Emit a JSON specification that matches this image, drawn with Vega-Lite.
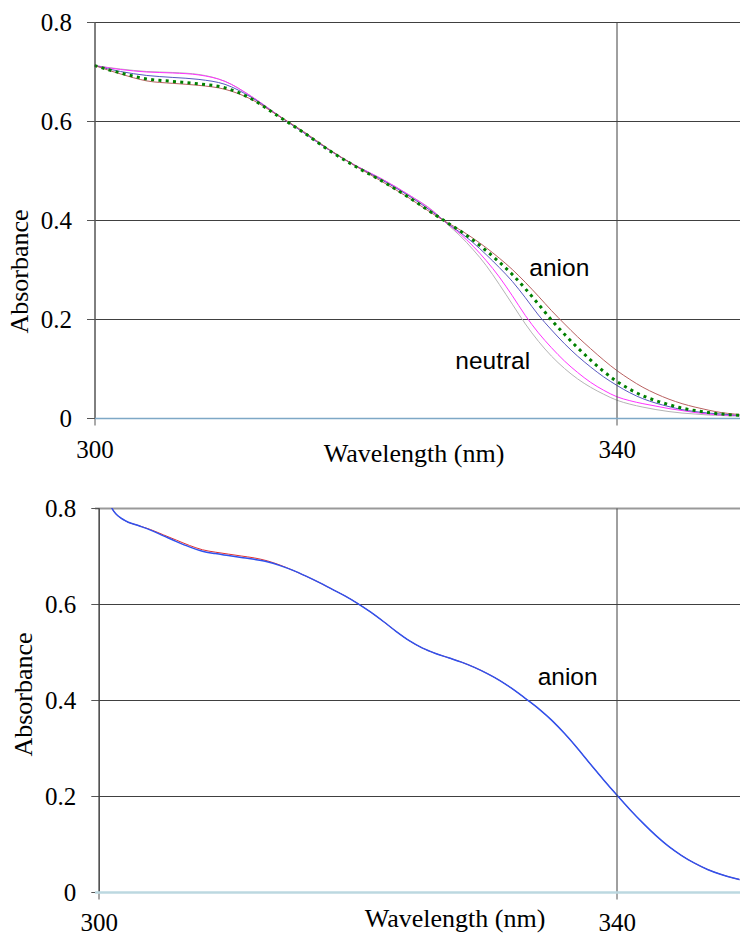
{
  "$schema": "https://vega.github.io/schema/vega-lite/v6.json",
  "padding": {"left": 6.5, "top": 10, "right": 0, "bottom": 0},
  "spacing": 29,
  "background": "white",
  "config": {
    "view": {"stroke": null},
    "axis": {"labelFont": "Liberation Serif", "titleFont": "Liberation Serif", "labelColor": "#000", "titleColor": "#000", "titleFontWeight": "normal", "labelFontSize": 25, "titleFontSize": 26}
  },
  "datasets": {
    "top": [
      {"s":"gray","wl":300,"a":0.712},{"s":"magenta","wl":300,"a":0.712},{"s":"blue","wl":300,"a":0.712},{"s":"green","wl":300,"a":0.712},{"s":"brown","wl":300,"a":0.712},
      {"s":"gray","wl":302,"a":0.705},{"s":"magenta","wl":302,"a":0.704},{"s":"blue","wl":302,"a":0.700},{"s":"green","wl":302,"a":0.697},{"s":"brown","wl":302,"a":0.695},
      {"s":"gray","wl":304,"a":0.700},{"s":"magenta","wl":304,"a":0.699},{"s":"blue","wl":304,"a":0.692},{"s":"green","wl":304,"a":0.685},{"s":"brown","wl":304,"a":0.681},
      {"s":"gray","wl":306,"a":0.698},{"s":"magenta","wl":306,"a":0.697},{"s":"blue","wl":306,"a":0.688},{"s":"green","wl":306,"a":0.680},{"s":"brown","wl":306,"a":0.676},
      {"s":"gray","wl":308,"a":0.694},{"s":"magenta","wl":308,"a":0.693},{"s":"blue","wl":308,"a":0.684},{"s":"green","wl":308,"a":0.675},{"s":"brown","wl":308,"a":0.672},
      {"s":"gray","wl":310,"a":0.680},{"s":"magenta","wl":310,"a":0.680},{"s":"blue","wl":310,"a":0.674},{"s":"green","wl":310,"a":0.667},{"s":"brown","wl":310,"a":0.664},
      {"s":"gray","wl":312,"a":0.650},{"s":"magenta","wl":312,"a":0.650},{"s":"blue","wl":312,"a":0.648},{"s":"green","wl":312,"a":0.645},{"s":"brown","wl":312,"a":0.644},
      {"s":"gray","wl":314,"a":0.613},{"s":"magenta","wl":314,"a":0.613},{"s":"blue","wl":314,"a":0.612},{"s":"green","wl":314,"a":0.611},{"s":"brown","wl":314,"a":0.612},
      {"s":"gray","wl":316,"a":0.577},{"s":"magenta","wl":316,"a":0.577},{"s":"blue","wl":316,"a":0.577},{"s":"green","wl":316,"a":0.577},{"s":"brown","wl":316,"a":0.579},
      {"s":"gray","wl":318,"a":0.541},{"s":"magenta","wl":318,"a":0.541},{"s":"blue","wl":318,"a":0.541},{"s":"green","wl":318,"a":0.540},{"s":"brown","wl":318,"a":0.542},
      {"s":"gray","wl":320,"a":0.510},{"s":"magenta","wl":320,"a":0.510},{"s":"blue","wl":320,"a":0.509},{"s":"green","wl":320,"a":0.508},{"s":"brown","wl":320,"a":0.509},
      {"s":"gray","wl":322,"a":0.483},{"s":"magenta","wl":322,"a":0.483},{"s":"blue","wl":322,"a":0.481},{"s":"green","wl":322,"a":0.479},{"s":"brown","wl":322,"a":0.478},
      {"s":"gray","wl":324,"a":0.452},{"s":"magenta","wl":324,"a":0.452},{"s":"blue","wl":324,"a":0.450},{"s":"green","wl":324,"a":0.447},{"s":"brown","wl":324,"a":0.446},
      {"s":"gray","wl":326,"a":0.417},{"s":"magenta","wl":326,"a":0.416},{"s":"blue","wl":326,"a":0.414},{"s":"green","wl":326,"a":0.412},{"s":"brown","wl":326,"a":0.411},
      {"s":"gray","wl":327,"a":0.392},{"s":"magenta","wl":327,"a":0.393},{"s":"blue","wl":327,"a":0.394},{"s":"green","wl":327,"a":0.395},{"s":"brown","wl":327,"a":0.395},
      {"s":"gray","wl":328,"a":0.368},{"s":"magenta","wl":328,"a":0.372},{"s":"blue","wl":328,"a":0.375},{"s":"green","wl":328,"a":0.378},{"s":"brown","wl":328,"a":0.380},
      {"s":"gray","wl":329,"a":0.340},{"s":"magenta","wl":329,"a":0.347},{"s":"blue","wl":329,"a":0.354},{"s":"green","wl":329,"a":0.359},{"s":"brown","wl":329,"a":0.363},
      {"s":"gray","wl":330,"a":0.308},{"s":"magenta","wl":330,"a":0.318},{"s":"blue","wl":330,"a":0.330},{"s":"green","wl":330,"a":0.338},{"s":"brown","wl":330,"a":0.344},
      {"s":"gray","wl":331,"a":0.270},{"s":"magenta","wl":331,"a":0.285},{"s":"blue","wl":331,"a":0.304},{"s":"green","wl":331,"a":0.315},{"s":"brown","wl":331,"a":0.323},
      {"s":"gray","wl":332,"a":0.230},{"s":"magenta","wl":332,"a":0.247},{"s":"blue","wl":332,"a":0.276},{"s":"green","wl":332,"a":0.290},{"s":"brown","wl":332,"a":0.300},
      {"s":"gray","wl":333,"a":0.190},{"s":"magenta","wl":333,"a":0.207},{"s":"blue","wl":333,"a":0.243},{"s":"green","wl":333,"a":0.261},{"s":"brown","wl":333,"a":0.274},
      {"s":"gray","wl":334,"a":0.155},{"s":"magenta","wl":334,"a":0.172},{"s":"blue","wl":334,"a":0.208},{"s":"green","wl":334,"a":0.230},{"s":"brown","wl":334,"a":0.246},
      {"s":"gray","wl":335,"a":0.125},{"s":"magenta","wl":335,"a":0.142},{"s":"blue","wl":335,"a":0.178},{"s":"green","wl":335,"a":0.198},{"s":"brown","wl":335,"a":0.217},
      {"s":"gray","wl":336,"a":0.100},{"s":"magenta","wl":336,"a":0.115},{"s":"blue","wl":336,"a":0.150},{"s":"green","wl":336,"a":0.169},{"s":"brown","wl":336,"a":0.190},
      {"s":"gray","wl":337,"a":0.079},{"s":"magenta","wl":337,"a":0.092},{"s":"blue","wl":337,"a":0.125},{"s":"green","wl":337,"a":0.142},{"s":"brown","wl":337,"a":0.164},
      {"s":"gray","wl":338,"a":0.062},{"s":"magenta","wl":338,"a":0.072},{"s":"blue","wl":338,"a":0.103},{"s":"green","wl":338,"a":0.117},{"s":"brown","wl":338,"a":0.140},
      {"s":"gray","wl":339,"a":0.048},{"s":"magenta","wl":339,"a":0.056},{"s":"blue","wl":339,"a":0.083},{"s":"green","wl":339,"a":0.094},{"s":"brown","wl":339,"a":0.117},
      {"s":"gray","wl":340,"a":0.036},{"s":"magenta","wl":340,"a":0.043},{"s":"blue","wl":340,"a":0.066},{"s":"green","wl":340,"a":0.074},{"s":"brown","wl":340,"a":0.096},
      {"s":"gray","wl":341,"a":0.028},{"s":"magenta","wl":341,"a":0.035},{"s":"blue","wl":341,"a":0.051},{"s":"green","wl":341,"a":0.058},{"s":"brown","wl":341,"a":0.078},
      {"s":"gray","wl":342,"a":0.022},{"s":"magenta","wl":342,"a":0.029},{"s":"blue","wl":342,"a":0.039},{"s":"green","wl":342,"a":0.045},{"s":"brown","wl":342,"a":0.062},
      {"s":"gray","wl":343,"a":0.017},{"s":"magenta","wl":343,"a":0.024},{"s":"blue","wl":343,"a":0.030},{"s":"green","wl":343,"a":0.035},{"s":"brown","wl":343,"a":0.049},
      {"s":"gray","wl":344,"a":0.013},{"s":"magenta","wl":344,"a":0.019},{"s":"blue","wl":344,"a":0.023},{"s":"green","wl":344,"a":0.027},{"s":"brown","wl":344,"a":0.038},
      {"s":"gray","wl":345,"a":0.010},{"s":"magenta","wl":345,"a":0.015},{"s":"blue","wl":345,"a":0.017},{"s":"green","wl":345,"a":0.020},{"s":"brown","wl":345,"a":0.029},
      {"s":"gray","wl":346,"a":0.008},{"s":"magenta","wl":346,"a":0.011},{"s":"blue","wl":346,"a":0.013},{"s":"green","wl":346,"a":0.015},{"s":"brown","wl":346,"a":0.022},
      {"s":"gray","wl":347,"a":0.006},{"s":"magenta","wl":347,"a":0.008},{"s":"blue","wl":347,"a":0.010},{"s":"green","wl":347,"a":0.011},{"s":"brown","wl":347,"a":0.016},
      {"s":"gray","wl":348,"a":0.005},{"s":"magenta","wl":348,"a":0.006},{"s":"blue","wl":348,"a":0.008},{"s":"green","wl":348,"a":0.008},{"s":"brown","wl":348,"a":0.011},
      {"s":"gray","wl":349,"a":0.004},{"s":"magenta","wl":349,"a":0.005},{"s":"blue","wl":349,"a":0.006},{"s":"green","wl":349,"a":0.006},{"s":"brown","wl":349,"a":0.008},
      {"s":"gray","wl":350,"a":0.003},{"s":"magenta","wl":350,"a":0.004},{"s":"blue","wl":350,"a":0.005},{"s":"green","wl":350,"a":0.005},{"s":"brown","wl":350,"a":0.006}
    ],
    "bottom": [
      {"s":"red","wl":300,"a":0.95},{"s":"red","wl":301,"a":0.800},{"s":"red","wl":302,"a":0.774},{"s":"red","wl":303,"a":0.764},{"s":"red","wl":304,"a":0.755},{"s":"red","wl":305,"a":0.744},{"s":"red","wl":306,"a":0.733},{"s":"red","wl":307,"a":0.722},{"s":"red","wl":308,"a":0.713},{"s":"red","wl":309,"a":0.708},{"s":"red","wl":310,"a":0.704},{"s":"red","wl":311,"a":0.700},{"s":"red","wl":312,"a":0.696},{"s":"red","wl":313,"a":0.690},{"s":"red","wl":314,"a":0.681},{"s":"red","wl":315,"a":0.670},{"s":"red","wl":316,"a":0.658},{"s":"red","wl":317,"a":0.645},{"s":"red","wl":318,"a":0.631},{"s":"red","wl":319,"a":0.617},{"s":"red","wl":320,"a":0.601},{"s":"red","wl":321,"a":0.583},{"s":"red","wl":322,"a":0.563},{"s":"red","wl":323,"a":0.542},{"s":"red","wl":324,"a":0.523},{"s":"red","wl":325,"a":0.508},{"s":"red","wl":326,"a":0.497},{"s":"red","wl":327,"a":0.488},{"s":"red","wl":328,"a":0.479},{"s":"red","wl":329,"a":0.468},{"s":"red","wl":330,"a":0.455},{"s":"red","wl":331,"a":0.440},{"s":"red","wl":332,"a":0.422},{"s":"red","wl":333,"a":0.402},{"s":"red","wl":334,"a":0.381},{"s":"red","wl":335,"a":0.357},{"s":"red","wl":336,"a":0.329},{"s":"red","wl":337,"a":0.298},{"s":"red","wl":338,"a":0.265},{"s":"red","wl":339,"a":0.233},{"s":"red","wl":340,"a":0.202},{"s":"red","wl":341,"a":0.172},{"s":"red","wl":342,"a":0.144},{"s":"red","wl":343,"a":0.118},{"s":"red","wl":344,"a":0.095},{"s":"red","wl":345,"a":0.076},{"s":"red","wl":346,"a":0.060},{"s":"red","wl":347,"a":0.047},{"s":"red","wl":348,"a":0.037},{"s":"red","wl":349,"a":0.029},{"s":"red","wl":350,"a":0.023},
      {"s":"blue","wl":300,"a":0.95},{"s":"blue","wl":301,"a":0.800},{"s":"blue","wl":302,"a":0.774},{"s":"blue","wl":303,"a":0.764},{"s":"blue","wl":304,"a":0.754},{"s":"blue","wl":305,"a":0.742},{"s":"blue","wl":306,"a":0.730},{"s":"blue","wl":307,"a":0.719},{"s":"blue","wl":308,"a":0.710},{"s":"blue","wl":309,"a":0.705},{"s":"blue","wl":310,"a":0.701},{"s":"blue","wl":311,"a":0.697},{"s":"blue","wl":312,"a":0.693},{"s":"blue","wl":313,"a":0.688},{"s":"blue","wl":314,"a":0.680},{"s":"blue","wl":315,"a":0.670},{"s":"blue","wl":316,"a":0.658},{"s":"blue","wl":317,"a":0.645},{"s":"blue","wl":318,"a":0.631},{"s":"blue","wl":319,"a":0.617},{"s":"blue","wl":320,"a":0.601},{"s":"blue","wl":321,"a":0.583},{"s":"blue","wl":322,"a":0.563},{"s":"blue","wl":323,"a":0.542},{"s":"blue","wl":324,"a":0.523},{"s":"blue","wl":325,"a":0.508},{"s":"blue","wl":326,"a":0.497},{"s":"blue","wl":327,"a":0.488},{"s":"blue","wl":328,"a":0.479},{"s":"blue","wl":329,"a":0.468},{"s":"blue","wl":330,"a":0.455},{"s":"blue","wl":331,"a":0.440},{"s":"blue","wl":332,"a":0.422},{"s":"blue","wl":333,"a":0.402},{"s":"blue","wl":334,"a":0.381},{"s":"blue","wl":335,"a":0.357},{"s":"blue","wl":336,"a":0.329},{"s":"blue","wl":337,"a":0.298},{"s":"blue","wl":338,"a":0.265},{"s":"blue","wl":339,"a":0.233},{"s":"blue","wl":340,"a":0.202},{"s":"blue","wl":341,"a":0.172},{"s":"blue","wl":342,"a":0.144},{"s":"blue","wl":343,"a":0.118},{"s":"blue","wl":344,"a":0.095},{"s":"blue","wl":345,"a":0.076},{"s":"blue","wl":346,"a":0.060},{"s":"blue","wl":347,"a":0.047},{"s":"blue","wl":348,"a":0.037},{"s":"blue","wl":349,"a":0.029},{"s":"blue","wl":350,"a":0.023}
    ],
    "toplabels": [
      {"wl": 335.6, "a": 0.287, "label": "anion"},
      {"wl": 330.5, "a": 0.099, "label": "neutral"}
    ],
    "bottomlabels": [
      {"wl": 336.2, "a": 0.431, "label": "anion"}
    ]
  },
  "vconcat": [
    {
      "width": 645,
      "height": 396,
      "encoding": {
        "x": {"field": "wl", "type": "quantitative", "scale": {"domain": [300, 349.4], "nice": false, "zero": false},
          "axis": {"values": [300, 340], "title": "Wavelength (nm)", "labelFont": "Liberation Serif", "titleFont": "Liberation Serif", "labelFlush": false, "grid": true, "gridColor": "#404040", "gridWidth": 1, "domainColor": "#7ea8c6", "domainWidth": 1.5, "tickColor": "#555555", "tickSize": 7, "labelPadding": 32, "labelBaseline": "alphabetic", "titleX": 319, "titleY": 43.5, "titleBaseline": "alphabetic", "titleAlign": "center", "zindex": 1}},
        "y": {"field": "a", "type": "quantitative", "scale": {"domain": [0, 0.8], "nice": false},
          "axis": {"values": [0, 0.2, 0.4, 0.6, 0.8], "format": "~g", "title": "Absorbance", "labelFont": "Liberation Serif", "titleFont": "Liberation Serif", "grid": true, "gridColor": "#404040", "gridOpacity": {"condition": {"test": "datum.value === 0", "value": 0}, "value": 1}, "domainColor": "#808080", "tickColor": "#555555", "tickSize": 8, "labelPadding": 15, "titleAngle": 270, "titleX": -66.7, "titleY": 249, "titleBaseline": "alphabetic", "titleAlign": "center"}}
      },
      "layer": [
        {
          "data": {"name": "top"},
          "transform": [{"filter": "datum.s !== 'green'"}],
          "mark": {"type": "line", "clip": true, "strokeWidth": 1, "interpolate": "monotone"},
          "encoding": {
            "color": {"field": "s", "type": "nominal", "legend": null,
              "scale": {"domain": ["gray", "magenta", "blue", "brown"], "range": ["#b4b4b4", "#ff33ff", "#5858c0", "#b86060"]}}
          }
        },
        {
          "data": {"name": "top"},
          "transform": [{"filter": "datum.s === 'green'"}],
          "mark": {"type": "line", "clip": true, "strokeWidth": 3, "color": "#008000", "strokeDash": [3, 4.3], "strokeCap": "butt", "interpolate": "monotone"}
        },
        {
          "data": {"name": "toplabels"},
          "mark": {"type": "text", "font": "Liberation Sans", "fontSize": 24.5, "align": "center", "baseline": "alphabetic", "color": "#000000"},
          "encoding": {"text": {"field": "label"}}
        }
      ]
    },
    {
      "width": 645,
      "height": 384,
      "encoding": {
        "x": {"field": "wl", "type": "quantitative", "scale": {"domain": [299.668, 349.47], "nice": false, "zero": false},
          "axis": {"values": [300, 340], "title": "Wavelength (nm)", "labelFont": "Liberation Serif", "titleFont": "Liberation Serif", "labelFlush": false, "grid": true, "gridColor": "#404040", "gridWidth": 1, "domainColor": "#bcd8e0", "domainWidth": 2.5, "tickColor": "#555555", "tickSize": 7, "labelPadding": 31.7, "labelBaseline": "alphabetic", "titleX": 360, "titleY": 34, "titleBaseline": "alphabetic", "titleAlign": "center", "zindex": 1}},
        "y": {"field": "a", "type": "quantitative", "scale": {"domain": [0, 0.8], "nice": false},
          "axis": {"values": [0, 0.2, 0.4, 0.6, 0.8], "format": "~g", "title": "Absorbance", "labelFont": "Liberation Serif", "titleFont": "Liberation Serif", "offset": -4.3, "grid": true,
            "gridColor": {"condition": {"test": "datum.value === 0.8", "value": "#999999"}, "value": "#404040"},
            "gridWidth": {"condition": {"test": "datum.value === 0.8", "value": 2}, "value": 1},
            "gridOpacity": {"condition": {"test": "datum.value === 0", "value": 0}, "value": 1},
            "domainColor": "#404040", "tickColor": "#555555", "tickSize": 8, "labelPadding": 15, "titleAngle": 270, "titleX": -67.3, "titleY": 186, "titleBaseline": "alphabetic", "titleAlign": "center"}}
      },
      "layer": [
        {
          "data": {"name": "bottom"},
          "transform": [{"filter": "datum.s === 'red'"}],
          "mark": {"type": "line", "clip": true, "strokeWidth": 1, "color": "#e03030", "interpolate": "monotone"}
        },
        {
          "data": {"name": "bottom"},
          "transform": [{"filter": "datum.s === 'blue'"}],
          "mark": {"type": "line", "clip": true, "strokeWidth": 1.5, "color": "#2f52ee", "interpolate": "monotone"}
        },
        {
          "data": {"name": "bottomlabels"},
          "mark": {"type": "text", "font": "Liberation Sans", "fontSize": 24.5, "align": "center", "baseline": "alphabetic", "color": "#000000"},
          "encoding": {"text": {"field": "label"}}
        }
      ]
    }
  ]
}
